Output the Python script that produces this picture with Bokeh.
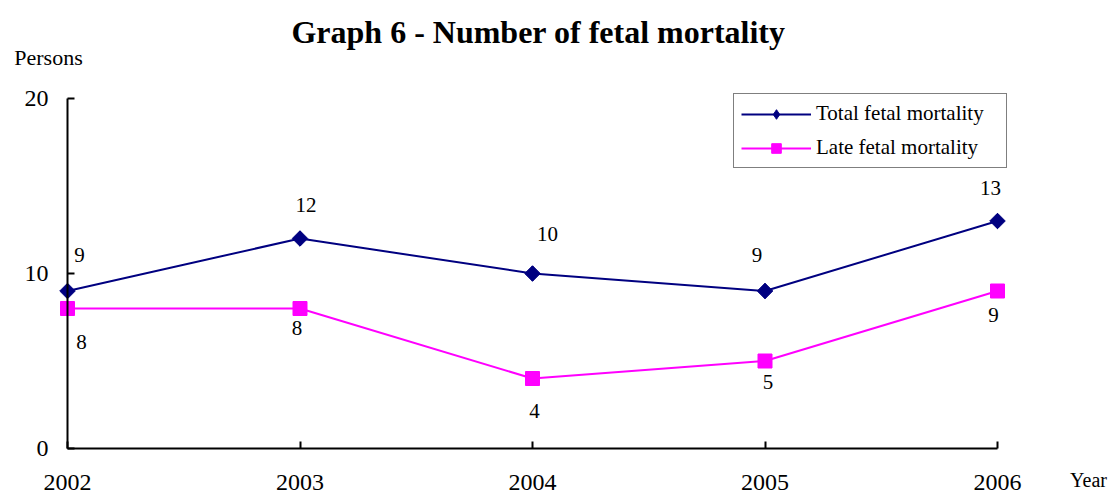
import math
from bokeh.plotting import figure
from bokeh.models import (Range1d, ColumnDataSource, LabelSet, Label, Legend,
                          LegendItem, FixedTicker, LinearAxis)
from bokeh.embed import file_html
from bokeh.resources import INLINE

# ---- data ----
years = [2002, 2003, 2004, 2005, 2006]
total_fetal = [9, 12, 10, 9, 13]
late_fetal = [8, 8, 4, 5, 9]
y_ticks = [0, 10, 20]

# ---- label placement (pixel nudges, style only) ----
total_label_dx = [12, 6, 15, -8, -7]
total_label_dy = [36, 34, 40, 36, 33]
late_label_dx = [14, -3, 2, 3, -4]
late_label_dy = [-33, -19, -32, -21, -24]

FONT = "Liberation Serif"
NAVY = "#000080"
MAGENTA = "#FF00FF"

# ---- layout (pixels) ----
W, H = 1113, 495
PLOT_L, PLOT_R = 67, 997      # pixel x of first / last year
PLOT_T, PLOT_B = 98, 448      # pixel y of top / bottom y tick

x_scale = (PLOT_R - PLOT_L) / (years[-1] - years[0])
y_scale = (PLOT_B - PLOT_T) / (y_ticks[-1] - y_ticks[0])
x_range = Range1d(years[0] - PLOT_L / x_scale, years[-1] + (W - PLOT_R) / x_scale)
y_range = Range1d(y_ticks[0] - (H - PLOT_B) / y_scale, y_ticks[-1] + PLOT_T / y_scale)

src = ColumnDataSource(dict(
    x=years,
    total=total_fetal,
    late=late_fetal,
    total_txt=[str(v) for v in total_fetal],
    late_txt=[str(v) for v in late_fetal],
    tdx=total_label_dx, tdy=total_label_dy,
    ldx=late_label_dx, ldy=late_label_dy,
))

p = figure(width=W, height=H, x_range=x_range, y_range=y_range,
           x_axis_type=None, y_axis_type=None,
           output_backend="svg", toolbar_location=None, title=None,
           min_border=0, min_border_left=0, min_border_right=0,
           min_border_top=0, min_border_bottom=0)

p.outline_line_color = None
p.xgrid.grid_line_color = None
p.ygrid.grid_line_color = None
p.background_fill_color = "white"
p.border_fill_color = "white"

xaxis = LinearAxis(fixed_location=y_ticks[0], ticker=FixedTicker(ticks=years),
                   bounds=(years[0], years[-1]))
yaxis = LinearAxis(fixed_location=years[0], ticker=FixedTicker(ticks=y_ticks),
                   bounds=(y_ticks[0], y_ticks[-1]))
for ax in (xaxis, yaxis):
    ax.axis_line_color = "black"
    ax.axis_line_width = 2
    ax.major_tick_line_color = "black"
    ax.major_tick_line_width = 2
    ax.major_tick_in = 7
    ax.major_tick_out = 0
    ax.minor_tick_line_color = None
    ax.major_label_text_font = FONT
    ax.major_label_text_font_size = "24px"
    ax.major_label_text_color = "black"
xaxis.major_label_standoff = 26
yaxis.major_label_standoff = 19
p.add_layout(xaxis, "below")
p.add_layout(yaxis, "left")

l1 = p.line('x', 'total', source=src, line_color=NAVY, line_width=2)
# diamond used for the legend swatch (sits beneath the rotated squares)
d1 = p.scatter('x', 'total', source=src, marker="diamond", size=15,
               fill_color=NAVY, line_color=NAVY)
s1 = p.scatter('x', 'total', source=src, marker="square", angle=math.pi / 4,
               size=11, fill_color=NAVY, line_color=NAVY)
l2 = p.line('x', 'late', source=src, line_color=MAGENTA, line_width=2)
s2 = p.scatter('x', 'late', source=src, marker="square", size=14,
               fill_color=MAGENTA, line_color=MAGENTA)

p.add_layout(LabelSet(x='x', y='total', text='total_txt', source=src,
                      x_offset='tdx', y_offset='tdy',
                      text_align="center", text_baseline="middle",
                      text_font=FONT, text_font_size="21px", text_color="black"))
p.add_layout(LabelSet(x='x', y='late', text='late_txt', source=src,
                      x_offset='ldx', y_offset='ldy',
                      text_align="center", text_baseline="middle",
                      text_font=FONT, text_font_size="21px", text_color="black"))

legend = Legend(items=[
    LegendItem(label="Total fetal mortality", renderers=[l1, d1]),
    LegendItem(label="Late fetal mortality", renderers=[l2, s2]),
], location=(733, H - 168))
legend.border_line_color = "black"
legend.border_line_width = 1.5
legend.background_fill_color = "white"
legend.background_fill_alpha = 1
legend.label_text_font = FONT
legend.label_text_font_size = "21px"
legend.label_text_color = "black"
legend.padding = 7
legend.spacing = 9
legend.margin = 0
legend.glyph_width = 70
legend.glyph_height = 24
legend.label_height = 24
legend.label_width = 183
legend.label_standoff = 5
p.add_layout(legend)

p.add_layout(Label(x=538, y=H - 31, x_units="screen", y_units="screen",
                   text="Graph 6 - Number of fetal mortality",
                   text_align="center", text_baseline="middle",
                   text_font=FONT, text_font_size="32px",
                   text_font_style="bold", text_color="black"))
p.add_layout(Label(x=48, y=H - 57, x_units="screen", y_units="screen",
                   text="Persons", text_align="center", text_baseline="middle",
                   text_font=FONT, text_font_size="22px", text_color="black"))
p.add_layout(Label(x=1088, y=H - 479, x_units="screen", y_units="screen",
                   text="Year", text_align="center", text_baseline="middle",
                   text_font=FONT, text_font_size="20px", text_color="black"))

open("out.html", "w").write(file_html(p, INLINE))
